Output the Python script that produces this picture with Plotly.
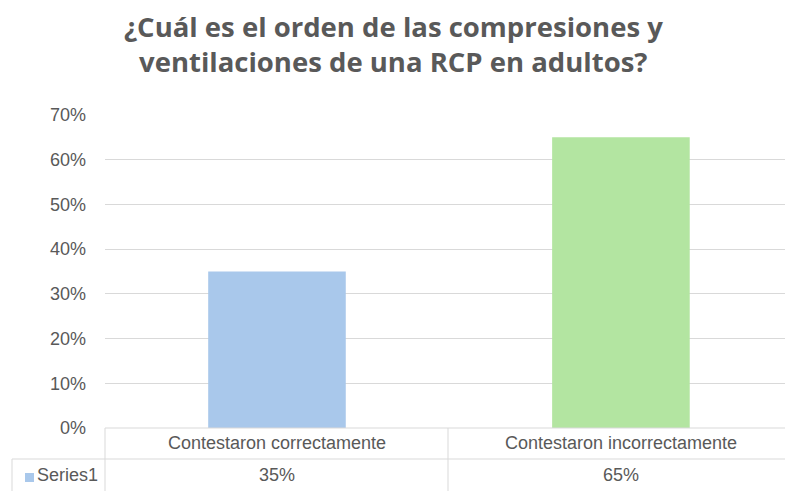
import plotly.graph_objects as go

TITLE_LINES = ["¿Cuál es el orden de las compresiones y", "ventilaciones de una RCP en adultos?"]
CATEGORIES = ["Contestaron correctamente", "Contestaron incorrectamente"]
VALUES = [0.35, 0.65]
BAR_COLORS = ["#A9C8EB", "#B3E5A1"]
SERIES_NAME = "Series1"
Y_TICKS = [0, 0.1, 0.2, 0.3, 0.4, 0.5, 0.6, 0.7]

GRAY = "#595959"
LINE = "#D9D9D9"
FONT = "Liberation Sans, Arial"

# figure / plot-area geometry in pixels
W, H = 785, 491
L, T, B = 105, 115, 428
ROW2, BOTTOM = 459, 491


def px(x):
    # pixel x -> paper fraction of plot area
    return (x - L) / (W - L)


def py(y):
    return (B - y) / (B - T)


fig = go.Figure(go.Bar(x=CATEGORIES, y=VALUES, marker=dict(color=BAR_COLORS, line_width=0),
                       width=0.4, hoverinfo="skip"))

ln = dict(color=LINE, width=1)
shapes = [
    dict(type="line", x0=px(L), x1=1, y0=py(B), y1=py(B), line=ln),
    dict(type="line", x0=px(12), x1=1, y0=py(ROW2), y1=py(ROW2), line=ln),
    dict(type="line", x0=px(12), x1=px(12), y0=py(ROW2), y1=py(BOTTOM), line=ln),
    dict(type="line", x0=px(L), x1=px(L), y0=py(B), y1=py(BOTTOM), line=ln),
    dict(type="line", x0=px(448), x1=px(448), y0=py(B), y1=py(BOTTOM), line=ln),
    dict(type="rect", x0=px(25), x1=px(34), y0=py(482), y1=py(473),
         fillcolor=BAR_COLORS[0], line_width=0),
]
for s in shapes:
    s.update(xref="paper", yref="paper")

tfont = dict(size=18, color=GRAY, family=FONT)
cell = dict(showarrow=False, font=tfont, yref="paper", yanchor="middle")
annotations = []
for i, (cat, val) in enumerate(zip(CATEGORIES, VALUES)):
    annotations.append(dict(x=i, xref="x", xanchor="center", y=py(443), text=cat, **cell))
    annotations.append(dict(x=i, xref="x", xanchor="center", y=py(475), text=f"{val:.0%}", **cell))
annotations.append(dict(x=px(35), xref="paper", xanchor="left", y=py(475), text=SERIES_NAME, **cell))
for line, yc in zip(TITLE_LINES, [27, 62]):
    annotations.append(dict(x=px(393), xref="paper", xanchor="center", y=py(yc), yref="paper",
                            yanchor="middle", text=line, showarrow=False,
                            font=dict(family="Open Sans", size=27.5, color=GRAY, weight="bold")))

fig.update_layout(
    width=W, height=H,
    paper_bgcolor="white", plot_bgcolor="white",
    margin=dict(l=L, r=0, t=T, b=H - B),
    font=dict(family=FONT, color=GRAY, size=18),
    showlegend=False,
    shapes=shapes,
    annotations=annotations,
)
fig.update_xaxes(range=[-0.5, 1.477], showticklabels=False, showgrid=False, zeroline=False,
                 showline=False, fixedrange=True)
fig.update_yaxes(range=[0, 0.7], tickvals=Y_TICKS, tickformat=".0%", showgrid=True, gridcolor=LINE,
                 gridwidth=1, zeroline=False, showline=False, ticklabelstandoff=18,
                 tickfont=tfont, fixedrange=True)

fig.write_html("out.html", config={"responsive": False, "displayModeBar": False},
               post_script="document.body.style.margin='0';")
